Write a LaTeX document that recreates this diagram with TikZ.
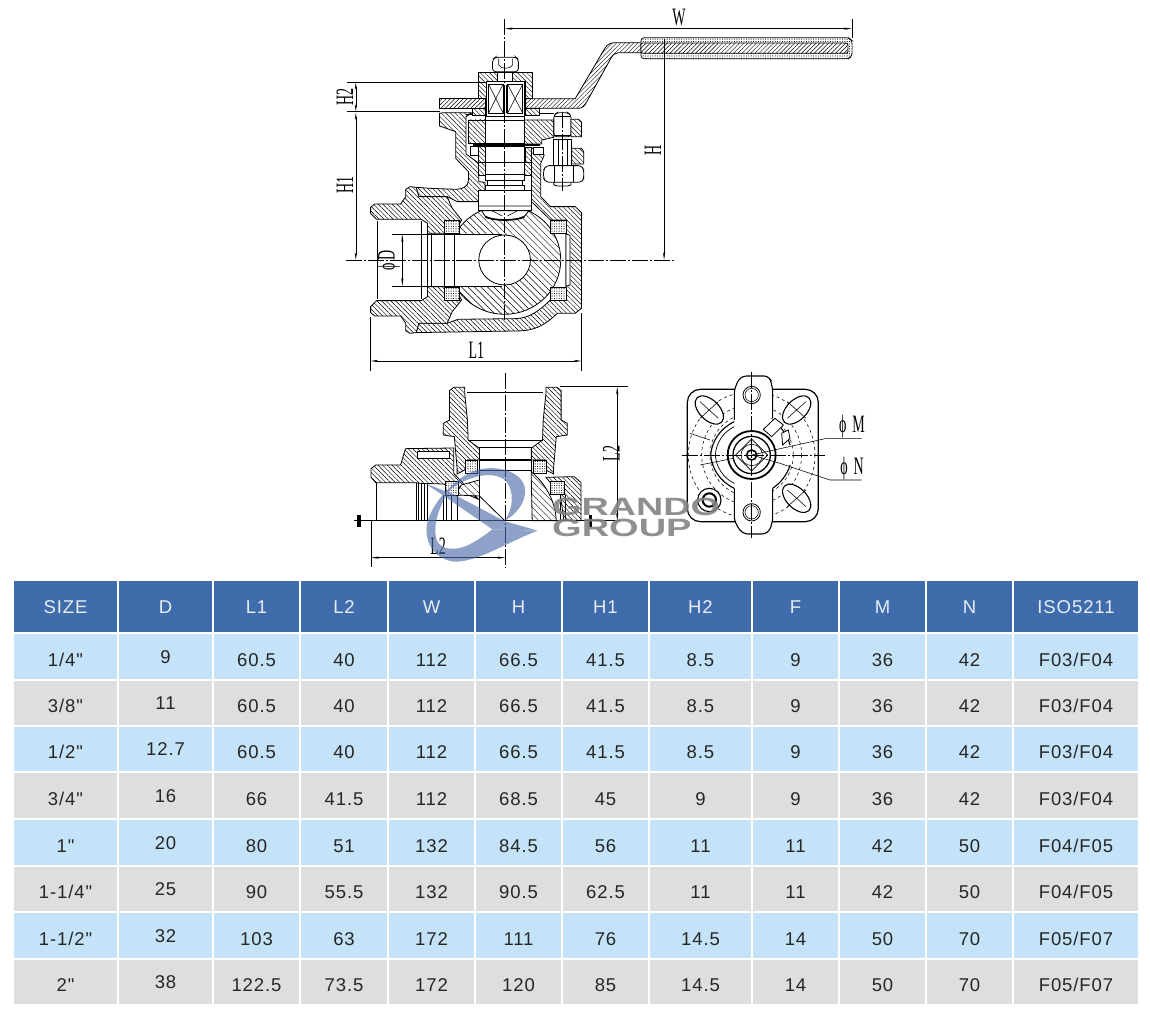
\documentclass[tikz,border=0pt]{standalone}
\usepackage{fontspec}
\usepackage{xcolor}
\usepackage{tikz}
\usetikzlibrary{arrows.meta,patterns.meta}
\newfontfamily\tablefont[LetterSpace=5]{Liberation Sans}
\newfontfamily\dimfont{Liberation Serif}
\newfontfamily\markfont{Liberation Sans}
\definecolor{headblue}{HTML}{3F6DAB}
\definecolor{rowblue}{HTML}{C4E3F8}
\definecolor{rowgray}{HTML}{DEDEDE}
\definecolor{logoblue}{HTML}{4A68A8}
\newcommand{\dimtext}[1]{\scalebox{.56}[1]{\fontsize{25}{25}\dimfont #1}}
\newcommand{\captop}{(118,640) -- (118,622) -- (130,612) -- (205,612) -- (220,590) -- (220,568) -- (232,560) -- (250,562) -- (258,590) -- (340,590) -- (355,625) -- (382,660) -- (372,680) -- (340,700) -- (283,700) -- (283,670) -- (265,658) -- (135,658) -- cycle}
\newcommand{\sockettop}{(318,62) -- (330,52) -- (362,52) -- (362,70) -- (370,150) -- (372,210) -- (405,235) -- (405,270) -- (370,270) -- (362,300) -- (340,312) -- (340,295) -- (332,200) -- (300,195) -- (300,160) -- (318,150) -- cycle}
\tikzset{
	hatchbody/.style={draw, line width=0.8pt, preaction={fill=white}, pattern={Lines[angle=-45,distance=3.3pt,line width=0.45pt]}},
	hatchball/.style={draw, line width=0.8pt, preaction={fill=white}, pattern={Lines[angle=-45,distance=4.6pt,line width=0.45pt]}},
	hatchlever/.style={draw, line width=0.8pt, preaction={fill=white}, pattern={Lines[angle=45,distance=3pt,line width=0.45pt]}},
	dotseat/.style={draw, line width=0.7pt, preaction={fill=white}, pattern={Dots[distance=2.4pt,radius=0.55pt]}},
	part/.style={draw, line width=0.8pt, fill=white},
	thin/.style={line width=0.55pt},
	centre/.style={line width=0.5pt, dash pattern=on 16pt off 2pt on 2pt off 2pt},
	dimline/.style={line width=0.55pt, {Stealth[length=8pt,width=2.2pt]}-{Stealth[length=8pt,width=2.2pt]}},
	dimlabel/.style={inner sep=0pt},
	marktext/.style={anchor=base west, inner sep=0pt, text=gray, opacity=0.88},
	tabletext/.style={anchor=base, inner sep=0pt, font=\fontsize{18.5}{18.5}\tablefont},
	viewtop/.style={shift={(330,0)}, x=0.3444pt, y=-0.3333pt},
	viewside/.style={shift={(340,370)}, x=0.3444pt, y=-0.3333pt},
	viewflange/.style={shift={(680,370)}, x=0.3333pt, y=-0.3333pt},
	viewlogo/.style={shift={(415,460)}, x=0.3333pt, y=-0.3333pt}
}
\def\colL{{14,119,214,301,389,476,563,650,753,840,927,1014}}
\def\colR{{117,212,299,387,474,561,648,751,838,925,1012,1138}}
\begin{document}
\begin{tikzpicture}[x=1pt, y=-1pt]
	\useasboundingbox (0,0) rectangle (1150,1016);
	\fill[white] (0,0) rectangle (1150,1016);

	% front view
	\begin{scope}[viewtop]
		% lever
		\draw[hatchlever] (318,296) -- (450,296) -- (450,325) -- (318,325) -- cycle;
		\draw[hatchlever] (568,296) -- (712,296) -- (798,145) .. controls (806,132) and (815,128) .. (830,128) -- (905,128) -- (905,158) -- (838,158) .. controls (828,158) and (822,164) .. (816,174) -- (745,306) .. controls (738,320) and (732,325) .. (720,325) -- (568,325) -- cycle;
		\draw[dotseat, rounded corners=3pt] (903,113) -- (1506,113) -- (1516,122) -- (1516,168) -- (1506,176) -- (903,176) -- cycle;
		\draw[hatchlever, rounded corners=2pt] (903,129) -- (1504,129) -- (1504,160) -- (903,160) -- cycle;
		% body
		\draw[hatchbody] (250,562) -- (290,565) -- (365,568) .. controls (385,568) and (402,560) .. (402,540) -- (402,515) -- (365,475) -- (365,395) -- (318,378) -- (318,340) -- (330,338) -- (413,338) -- (395,350) -- (395,462) -- (432,490) -- (432,545) -- (450,547) -- (450,572) -- (432,572) -- (432,605) -- (370,605) -- (340,590) -- (258,590) -- cycle;
		\draw[hatchbody] (585,443) -- (622,465) -- (612,490) -- (612,590) -- (640,620) -- (712,620) -- (730,638) -- (730,925) -- (712,940) -- (660,940) .. controls (620,980) and (590,993) .. (540,993) -- (360,996) -- (250,998) -- (258,970) -- (340,970) -- (372,958) -- (540,956) .. controls (580,955) and (610,930) .. (640,900) -- (685,900) -- (685,660) -- (640,660) -- (630,650) -- (585,605) -- cycle;
		\draw[part] (685,702) -- (697,706) -- (697,855) -- (685,859) -- cycle;
		\draw[hatchbody] \captop;
		\begin{scope}[shift={(0,1560)}, yscale=-1]
			\draw[hatchbody] \captop;
		\end{scope}
		\draw[thin] (137,662) -- (137,898) (265,664) -- (265,896) (283,700) -- (283,860) (295,700) -- (295,860);
		% ball
		\begin{scope}
			\clip (372,600) rectangle (700,960);
			\draw[hatchball] (507,780) circle (163);
		\end{scope}
		\draw[part] (332,703) rectangle (372,858);
		\draw[line width=0.8pt] (332,703) -- (500,703) (332,858) -- (500,858) (362,703) -- (362,858);
		\fill[white] (373,704) rectangle (500,857);
		\draw[part] (507,780) circle (75);
		\draw[dotseat] (332,662) rectangle (375,700);
		\draw[dotseat] (332,862) rectangle (375,900);
		\draw[dotseat] (640,662) rectangle (685,700);
		\draw[dotseat] (640,862) rectangle (685,900);
		% stem
		\draw[part] (440,632) -- (578,632) -- (565,648) .. controls (545,662) and (470,662) .. (450,648) -- cycle;
		\draw[line width=1.4pt] (450,650) .. controls (470,664) and (545,664) .. (565,650);
		\draw[part] (432,572) rectangle (585,632);
		\draw[thin] (432,618) -- (585,618) (470,632) -- (500,648) (545,632) -- (515,648);
		\draw[part] (450,555) rectangle (565,572);
		\draw[part] (457,540) rectangle (558,555);
		\draw[part] (450,487) rectangle (565,540);
		\draw[thin] (450,522) -- (565,522);
		\draw[hatchbody] (432,487) rectangle (450,525);
		\draw[hatchbody] (565,487) rectangle (585,525);
		\draw[part] (450,438) rectangle (565,487);
		\draw[hatchbody] (430,440) rectangle (450,487);
		\draw[hatchbody] (568,443) rectangle (585,487);
		\draw[part] (408,440) rectangle (430,465);
		\draw[part] (590,443) -- (620,443) -- (620,462) -- (590,462) -- cycle;
		\draw[hatchbody] (403,360) rectangle (450,430);
		\draw[hatchbody] (565,360) -- (650,360) -- (650,412) -- (615,420) -- (615,432) -- (565,432) -- cycle;
		\draw[part] (450,360) rectangle (565,430);
		\draw[line width=2.4pt] (415,435) -- (610,435);
		\draw[part] (452,348) rectangle (565,360);
		\draw[thin] (395,342) -- (413,342) (607,340) -- (650,340);
		\draw[hatchbody] (413,325) rectangle (450,345);
		\draw[hatchbody] (568,325) rectangle (607,345);
		% top cap
		\draw[hatchbody] (430,217) -- (588,217) -- (588,296) -- (568,296) -- (568,245) -- (455,245) -- (455,296) -- (430,296) -- cycle;
		\draw[part] (455,245) rectangle (565,348);
		\draw[part] (460,252) rectangle (503,340);
		\draw[part] (515,252) rectangle (560,340);
		\draw[thin] (460,252) -- (503,340) (503,252) -- (460,340) (515,252) -- (560,340) (560,252) -- (515,340);
		\draw[line width=1.2pt] (507,255) -- (507,340) (513,255) -- (513,340);
		\draw[part] (487,217) rectangle (530,245);
		\draw[part, rounded corners=3pt] (472,215) -- (472,178) -- (480,172) -- (540,172) -- (547,178) -- (547,215) -- cycle;
		\draw[thin] (490,176) -- (490,195) .. controls (495,208) and (525,208) .. (530,195) -- (530,176);
		% bolt
		\draw[part, rounded corners=3pt] (650,410) -- (650,345) -- (660,338) -- (690,338) -- (700,345) -- (700,410) -- cycle;
		\draw[line width=1.4pt] (652,350) -- (698,350);
		\draw[thin] (650,405) -- (700,405);
		\draw[hatchbody] (700,358) -- (722,358) -- (730,366) -- (730,410) -- (700,410) -- cycle;
		\draw[part] (648,418) -- (702,418) -- (702,495) -- (648,495) -- cycle;
		\draw[thin] (662,420) -- (662,495) (690,420) -- (690,495);
		\draw[hatchbody] (702,445) -- (730,445) -- (737,455) -- (737,492) -- (702,492) -- cycle;
		\draw[part] (650,545) -- (700,545) -- (700,555) -- (690,558) -- (660,558) -- (650,555) -- cycle;
		\draw[part, rounded corners=3pt] (620,510) -- (628,497) -- (730,497) -- (737,510) -- (737,535) -- (730,547) -- (628,547) -- (620,535) -- cycle;
		\draw[thin] (652,497) -- (652,547) (705,497) -- (705,547);
		% centre lines
		\draw[centre] (507,58) -- (507,960);
		\draw[centre] (45,780) -- (1000,780);
		\draw[centre] (675,335) -- (675,572);
		% dimensions
		\draw[thin] (1515,58) -- (1515,115);
		\draw[dimline] (507,86) -- (1515,86);
		\draw[thin] (970,118) -- (970,176);
		\draw[thin, -{Stealth[length=8pt,width=2.2pt]}] (970,176) -- (970,780);
		\draw[thin] (48,247) -- (450,247) (48,335) -- (320,335);
		\draw[dimline] (75,247) -- (75,335);
		\draw[dimline] (75,338) -- (75,780);
		\draw[thin] (180,703) -- (330,703) (180,858) -- (330,858);
		\draw[dimline] (210,703) -- (210,858);
		\draw[thin] (118,950) -- (118,1112) (730,940) -- (730,1112);
		\draw[dimline] (118,1083) -- (730,1083);
		\node[dimlabel] (labelW) at (1013,52) {\dimtext{W}};
		\node[dimlabel, rotate=90] (labelH) at (938,450) {\dimtext{H}};
		\node[dimlabel, rotate=90] (labelHtwo) at (43,290) {\dimtext{H2}};
		\node[dimlabel, rotate=90] (labelHone) at (43,556) {\dimtext{H1}};
		\node[dimlabel, rotate=90] (labelD) at (170,782) {\dimtext{ϕ\,D}};
		\node[dimlabel] (labelLone) at (425,1052) {\dimtext{L1}};
	\end{scope}

	% side view
	\begin{scope}[viewside]
		\draw[hatchbody] (90,296) -- (104,285) -- (176,285) -- (190,236) -- (330,234) -- (330,310) -- (402,388) -- (300,342) -- (232,340) -- (220,338) -- (104,338) -- (90,322) -- cycle;
		\draw[part] (225,245) rectangle (318,265);
		\draw[hatchbody] (598,322) -- (680,320) -- (700,338) -- (700,452) -- (650,452) -- (640,375) -- cycle;
		\draw[hatchball] (555,305) .. controls (590,335) and (625,385) .. (628,452) -- (558,452) -- cycle;
		\draw[hatchball] (352,345) -- (405,330) -- (405,378) -- (335,375) -- cycle;
		\draw[line width=0.8pt] (405,378) -- (478,452);
		\draw[hatchbody] \sockettop;
		\begin{scope}[shift={(960,0)}, xscale=-1]
			\draw[hatchbody] \sockettop;
		\end{scope}
		\draw[dotseat] (305,335) rectangle (345,375);
		\draw[dotseat] (365,270) rectangle (400,310);
		\draw[dotseat] (560,270) rectangle (600,310);
		\draw[dotseat] (610,335) rectangle (650,372);
		\draw[line width=0.8pt] (370,68) -- (590,68);
		\draw[line width=0.8pt] (372,210) -- (588,210) (405,232) -- (555,232) (405,232) -- (405,452);
		\draw[line width=0.8pt] (555,232) -- (555,305);
		\draw[line width=2.6pt] (405,270) -- (555,270);
		\draw[line width=1pt] (405,302) -- (555,302);
		\draw[line width=0.8pt] (106,338) -- (106,452) (222,340) -- (222,452) (228,340) -- (228,452) (236,340) -- (236,452) (245,340) -- (245,452) (255,340) -- (255,452) (300,375) -- (300,452) (308,375) -- (308,452) (322,375) -- (322,452) (340,375) -- (340,452) (640,375) -- (640,452) (655,375) -- (655,452);
		\draw[centre] (480,10) -- (480,595);
		\draw[line width=0.7pt] (40,452) -- (700,452);
		\fill (50,434) rectangle (60,472);
		\fill (722,434) rectangle (733,470);
		\draw[thin] (640,50) -- (835,50) (700,452) -- (812,452);
		\draw[dimline] (805,50) -- (805,452);
		\draw[thin] (90,452) -- (90,592);
		\draw[dimline] (90,563) -- (480,563);
		\node[dimlabel, rotate=90] (labelLtwoa) at (788,250) {\dimtext{L2}};
		\node[dimlabel] (labelLtwob) at (285,530) {\dimtext{L2}};
	\end{scope}

	% flange view
	\begin{scope}[viewflange]
		\draw[part, line width=1.2pt, rounded corners=13pt] (22,58) rectangle (415,455);
		\foreach \ringr in {125,150,190} {
			\draw[thin, dashed] (215,255) circle (\ringr);
		}
		\draw[part, line width=1.1pt, rotate around={-45:(88,120)}] (88,120) ellipse (52 and 30);
		\draw[part, line width=1.1pt, rotate around={45:(350,120)}] (350,120) ellipse (52 and 30);
		\draw[part, line width=1.1pt, rotate around={-45:(350,385)}] (350,385) ellipse (52 and 30);
		\draw[thin] (60,95) -- (115,145) (115,95) -- (60,145) (322,95) -- (378,145) (378,95) -- (322,145) (322,360) -- (378,410) (378,360) -- (322,410);
		\draw[part, line width=1.1pt] (88,390) circle (35);
		\draw[line width=2pt] (88,390) circle (20);
		\fill[white] (165,150) rectangle (276,360);
		\draw[part, line width=1.1pt, rounded corners=3pt] (163,150) -- (163,60) -- (175,30) -- (190,18) -- (262,18) -- (272,30) -- (278,60) -- (278,145);
		\draw[part, line width=1.1pt, rounded corners=3pt] (163,355) -- (163,450) -- (178,480) -- (195,492) -- (255,492) -- (270,480) -- (278,450) -- (278,355);
		\draw[line width=1.1pt] (163,155) .. controls (120,175) and (95,215) .. (92,255) .. controls (95,295) and (120,335) .. (163,355);
		\draw[line width=0.7pt] (163,170) .. controls (130,185) and (108,220) .. (106,255) .. controls (108,290) and (130,325) .. (163,340);
		\draw[line width=1.1pt] (278,150) .. controls (300,165) and (325,200) .. (330,225) (330,285) .. controls (322,315) and (300,340) .. (278,355);
		\draw[part] (215,75) circle (26);
		\draw[thin] (215,75) circle (20);
		\draw[part] (215,427) circle (26);
		\draw[thin] (215,427) circle (20);
		\draw[part] (250,178) -- (285,145) -- (310,165) -- (275,200) -- cycle;
		\draw[part] (305,190) -- (325,180) -- (330,205) -- (308,225) -- cycle;
		\draw[part, line width=1.8pt] (215,255) circle (72);
		\draw[line width=1.3pt] (215,255) circle (56);
		\draw[part] (215,207) -- (263,255) -- (215,303) -- (167,255) -- cycle;
		\draw[thin] (215,255) circle (32);
		\draw[line width=1.6pt] (215,255) circle (15);
		\draw[thin] (30,190) -- (90,210) (60,285) -- (160,265);
		\draw[centre] (5,255) -- (435,255);
		\draw[centre] (215,5) -- (215,505);
		\draw[thin] (545,205) -- (440,205) -- (215,255);
		\draw[thin] (545,330) -- (450,330) -- (300,280) -- (215,255);
		\node[dimlabel] (labelM) at (516,170) {\dimtext{ϕ\, M}};
		\node[dimlabel] (labelN) at (516,294) {\dimtext{ϕ\, N}};
	\end{scope}

	% watermark
	\begin{scope}[viewlogo, transparency group, opacity=0.62]
		\fill[logoblue] (368,212) .. controls (270,250) and (190,305) .. (120,305) .. controls (60,300) and (30,250) .. (35,200) .. controls (40,140) and (120,50) .. (185,30) .. controls (240,15) and (320,30) .. (330,85) .. controls (335,130) and (300,165) .. (268,183) .. controls (295,150) and (300,90) .. (270,60) .. controls (230,30) and (160,50) .. (110,85) .. controls (80,120) and (50,190) .. (65,240) .. controls (80,275) and (130,270) .. (160,255) .. controls (190,240) and (210,225) .. (232,208) -- cycle;
		\fill[logoblue] (30,70) -- (120,105) -- (268,183) -- (368,212) -- (232,208) -- (90,110) -- cycle;
	\end{scope}
	\node[marktext] (markA) at (552,515) {\scalebox{1.51}[1]{\fontsize{25}{25}\markfont\bfseries GRANDO}};
	\node[marktext] (markB) at (552,536) {\scalebox{1.52}[1]{\fontsize{25}{25}\markfont\bfseries GROUP}};

	% table
	\foreach \txt [count=\i] in {SIZE,D,L1,L2,W,H,H1,H2,F,M,N,ISO5211} {
		\pgfmathsetmacro{\cl}{\colL[\i-1]}
		\pgfmathsetmacro{\cr}{\colR[\i-1]}
		\fill[headblue] (\cl,581) rectangle (\cr,632);
		\node[tabletext, text=white!88!headblue] (head\i) at ({(\cl+\cr)/2},613) {\txt};
	}
	\foreach \rowid/\rowt/\rowb/\rowc/\cells in {
		1/634/679/rowblue/{1/4",9,60.5,40,112,66.5,41.5,8.5,9,36,42,F03/F04},
		2/681/725/rowgray/{3/8",11,60.5,40,112,66.5,41.5,8.5,9,36,42,F03/F04},
		3/727/771/rowblue/{1/2",12.7,60.5,40,112,66.5,41.5,8.5,9,36,42,F03/F04},
		4/773/818/rowgray/{3/4",16,66,41.5,112,68.5,45,9,9,36,42,F03/F04},
		5/820/865/rowblue/{1",20,80,51,132,84.5,56,11,11,42,50,F04/F05},
		6/867/911/rowgray/{1-1/4",25,90,55.5,132,90.5,62.5,11,11,42,50,F04/F05},
		7/913/958/rowblue/{1-1/2",32,103,63,172,111,76,14.5,14,50,70,F05/F07},
		8/960/1004/rowgray/{2",38,122.5,73.5,172,120,85,14.5,14,50,70,F05/F07}} {
		\foreach \txt [count=\i] in \cells {
			\pgfmathsetmacro{\cl}{\colL[\i-1]}
			\pgfmathsetmacro{\cr}{\colR[\i-1]}
			\pgfmathsetmacro{\base}{(\rowt+\rowb)/2+(\i==2 ? 6.5 : 9.5)}
			\fill[\rowc] (\cl,\rowt) rectangle (\cr,\rowb);
			\node[tabletext, text=black!85] (cell\rowid-\i) at ({(\cl+\cr)/2},\base) {\txt};
		}
	}
\end{tikzpicture}
\end{document}
